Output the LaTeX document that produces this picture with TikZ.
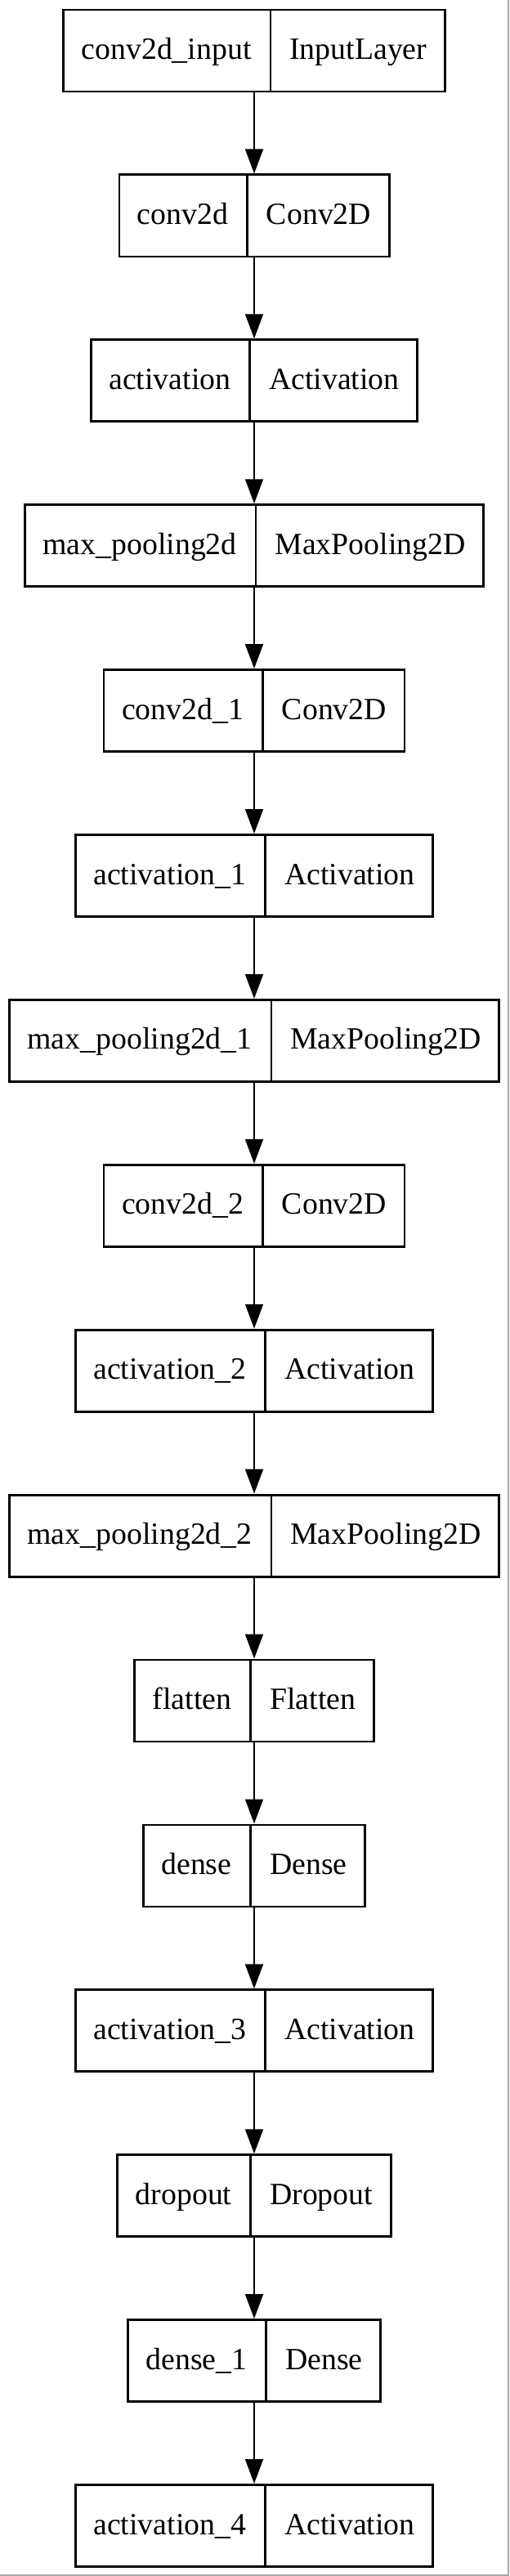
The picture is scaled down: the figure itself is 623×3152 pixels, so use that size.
\documentclass[tikz,border=0pt]{standalone}
\usepackage{fontspec}
\setmainfont{Liberation Serif}
\usetikzlibrary{arrows.meta, shapes.multipart}

% same height and depth in every field
\newcommand{\lstrut}{\rule[-4.5pt]{0pt}{19.5pt}}

\begin{document}
\begin{tikzpicture}[x=0.5pt, y=-0.5pt,
			->,
			>={Triangle[length=15pt, width=10.8pt]},
			line width=1.4pt,
			layer/.style={-, draw, rectangle split, rectangle split horizontal,
				rectangle split parts=2, inner xsep=11pt, inner ysep=0pt,
				minimum height=50pt, font=\fontsize{18.9}{23}\selectfont}]

			\useasboundingbox (0,0) rectangle (623,3152);
			\draw[-, gray!70, line width=1pt] (621.5,0) -- (621.5,3150.5) -- (0,3150.5);

			\node[layer] (input) at (311,62) {\lstrut conv2d\_input \nodepart{two}\lstrut InputLayer};
			\node[layer] (conv) at (311,263.9) {\lstrut conv2d \nodepart{two}\lstrut Conv2D};
			\node[layer] (act) at (311,465.8) {\lstrut activation \nodepart{two}\lstrut Activation};
			\node[layer] (pool) at (311,667.7) {\lstrut max\_pooling2d \nodepart{two}\lstrut MaxPooling2D};
			\node[layer] (conv1) at (311,869.6) {\lstrut conv2d\_1 \nodepart{two}\lstrut Conv2D};
			\node[layer] (act1) at (311,1071.5) {\lstrut activation\_1 \nodepart{two}\lstrut Activation};
			\node[layer] (pool1) at (311,1273.4) {\lstrut max\_pooling2d\_1 \nodepart{two}\lstrut MaxPooling2D};
			\node[layer] (conv2) at (311,1475.3) {\lstrut conv2d\_2 \nodepart{two}\lstrut Conv2D};
			\node[layer] (act2) at (311,1677.2) {\lstrut activation\_2 \nodepart{two}\lstrut Activation};
			\node[layer] (pool2) at (311,1879.1) {\lstrut max\_pooling2d\_2 \nodepart{two}\lstrut MaxPooling2D};
			\node[layer] (flat) at (311,2081) {\lstrut flatten \nodepart{two}\lstrut Flatten};
			\node[layer] (dense) at (311,2282.9) {\lstrut dense \nodepart{two}\lstrut Dense};
			\node[layer] (act3) at (311,2484.8) {\lstrut activation\_3 \nodepart{two}\lstrut Activation};
			\node[layer] (drop) at (311,2686.7) {\lstrut dropout \nodepart{two}\lstrut Dropout};
			\node[layer] (dense1) at (311,2888.6) {\lstrut dense\_1 \nodepart{two}\lstrut Dense};
			\node[layer] (act4) at (311,3090.5) {\lstrut activation\_4 \nodepart{two}\lstrut Activation};

			\draw (input) -- (conv);
			\draw (conv) -- (act);
			\draw (act) -- (pool);
			\draw (pool) -- (conv1);
			\draw (conv1) -- (act1);
			\draw (act1) -- (pool1);
			\draw (pool1) -- (conv2);
			\draw (conv2) -- (act2);
			\draw (act2) -- (pool2);
			\draw (pool2) -- (flat);
			\draw (flat) -- (dense);
			\draw (dense) -- (act3);
			\draw (act3) -- (drop);
			\draw (drop) -- (dense1);
			\draw (dense1) -- (act4);
		\end{tikzpicture}
\end{document}
